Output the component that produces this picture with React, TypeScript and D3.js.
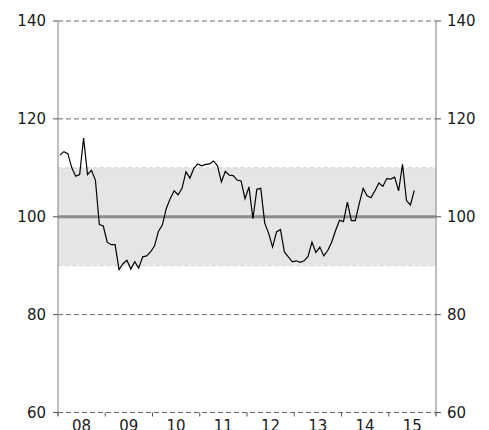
import React from "react";
import * as d3 from "d3";

const yearLabels = ["08", "09", "10", "11", "12", "13", "14", "15"];
const yTicks = [60, 80, 100, 120, 140];
const bandRange = [90, 110];
const baseline = 100;
const startYear = 2008;
// monthly values, Jan 2008 .. Jul 2015
const values = [
  112.6, 113.3, 112.9, 110.0, 108.3, 108.6, 116.1, 108.6, 109.5, 107.5, 98.4, 98.1,
  94.8, 94.3, 94.3, 89.2, 90.4, 91.1, 89.3, 90.8, 89.5, 91.8, 92.0, 92.8,
  94.0, 97.0, 98.3, 101.7, 103.7, 105.3, 104.5, 105.8, 109.2, 107.9, 109.9, 110.8,
  110.4, 110.7, 110.8, 111.4, 110.4, 107.1, 109.3, 108.5, 108.4, 107.5, 107.3, 103.7,
  106.1, 99.6, 105.6, 105.8, 98.7, 96.6, 93.8, 96.9, 97.4, 92.8, 91.8, 90.8,
  91.0, 90.7, 91.0, 91.9, 94.8, 92.7, 93.8, 92.0, 93.1, 94.8, 97.2, 99.3,
  99.0, 103.0, 99.2, 99.2, 102.7, 105.8, 104.3, 103.9, 105.3, 106.9, 106.2, 107.8,
  107.7, 108.1, 105.3, 110.7, 103.3, 102.4, 105.4,
];

const W = 489;
const H = 430;
const left = 58;
const right = 436;
const top = 21;
const bottom = 412.5;

export default function App() {
  const x = d3.scaleLinear().domain([startYear, startYear + yearLabels.length]).range([left, right]);
  const y = d3.scaleLinear().domain([60, 140]).range([bottom, top]);
  const xm = (i: number) => x(startYear + (i + 0.5) / 12);
  const line = d3
    .line<number>()
    .x((_, i) => xm(i))
    .y((d) => y(d));
  const font = "'DejaVu Sans', Verdana, sans-serif";
  const yearTicks = d3.range(startYear, startYear + yearLabels.length + 1);
  return (
    <svg
      width={W}
      height={H}
      style={{ position: "absolute", left: 0, top: 0, background: "#fff" }}
      fontFamily={font}
    >
      <rect
        x={left}
        y={y(bandRange[1])}
        width={right - left}
        height={y(bandRange[0]) - y(bandRange[1])}
        fill="#e5e5e5"
      />
      {bandRange.map((v) => (
        <line key={"b" + v} x1={left} x2={right} y1={y(v)} y2={y(v)} stroke="#d2d2d2" strokeDasharray="4,3" />
      ))}
      {yTicks
        .filter((v) => v !== baseline)
        .map((v) => (
          <line key={"g" + v} x1={left} x2={right} y1={y(v)} y2={y(v)} stroke="#6a6a6a" strokeDasharray="5,3" />
        ))}
      <line x1={left} x2={right} y1={y(baseline)} y2={y(baseline)} stroke="#8c8c8c" strokeWidth={3} />
      <line x1={left} x2={left} y1={top} y2={bottom + 3} stroke="#808080" />
      <line x1={right} x2={right} y1={top} y2={bottom + 3} stroke="#808080" />
      {yTicks.map((v) => (
        <g key={"t" + v}>
          <line x1={left - 5} x2={left} y1={y(v)} y2={y(v)} stroke="#555" />
          <line x1={right} x2={right + 5} y1={y(v)} y2={y(v)} stroke="#555" />
          <text x={left - 12} y={y(v)} dy="0.36em" textAnchor="end" fontSize={15} fill="#1a1a1a">
            {v}
          </text>
          <text x={right + 11} y={y(v)} dy="0.36em" textAnchor="start" fontSize={15} fill="#1a1a1a">
            {v}
          </text>
        </g>
      ))}
      {yearTicks.map((yr) => (
        <line key={"x" + yr} x1={x(yr)} x2={x(yr)} y1={bottom} y2={bottom + 4} stroke="#555" />
      ))}
      {yearLabels.map((lab, i) => (
        <text key={lab} x={x(startYear + i + 0.5)} y={431} textAnchor="middle" fontSize={15} fill="#1a1a1a">
          {lab}
        </text>
      ))}
      <path d={line(values) || ""} fill="none" stroke="#000" strokeWidth={1.2} strokeLinejoin="miter" />
    </svg>
  );
}
